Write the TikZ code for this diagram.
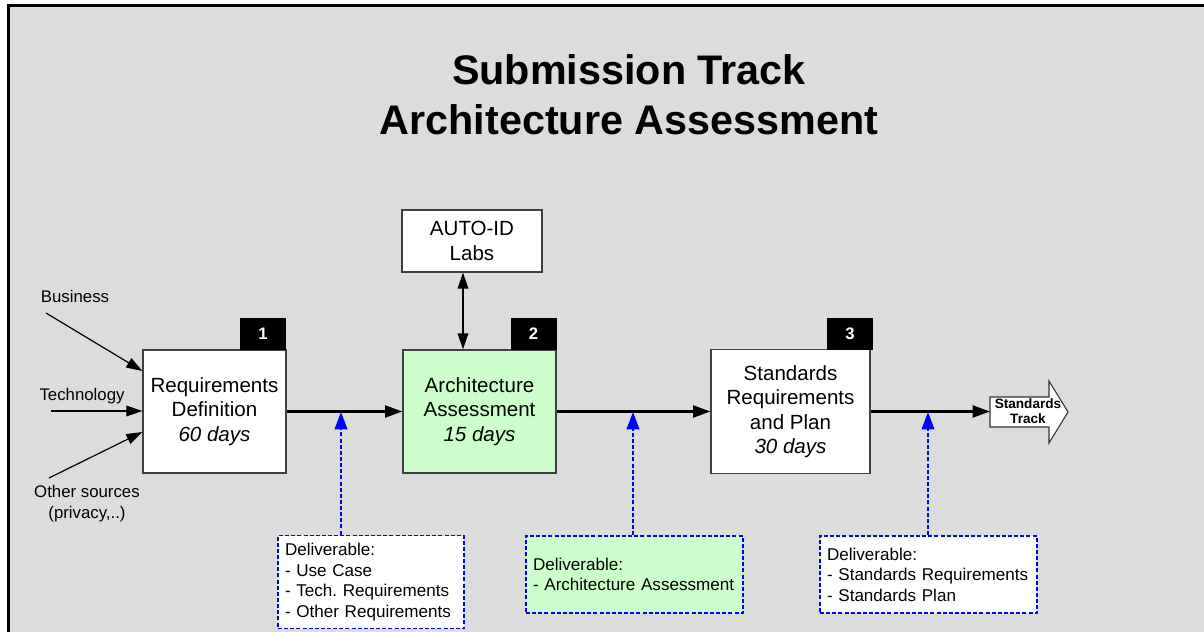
\documentclass[tikz,border=0pt]{standalone}
\usepackage{fontspec}
\setmainfont{Liberation Sans}
\usetikzlibrary{arrows.meta,calc}
\definecolor{bggray}{RGB}{220,220,220}
\definecolor{boxgreen}{RGB}{204,255,204}
\frenchspacing
\begin{document}
\begin{tikzpicture}[x=0.75pt,y=-0.75pt,
  stagebox/.style={draw=black!75,line width=1pt,fill=white,align=center,inner sep=0pt,
    font=\fontsize{15.4}{18.4}\selectfont},
  numbox/.style={fill=black,text=white,inner sep=0pt,minimum width=34.5pt,minimum height=24pt,
    font=\fontsize{12.5}{14}\selectfont\bfseries},
  delbox/.style={draw=blue,dash pattern=on 3pt off 1.6pt,line width=1.4pt,fill=white,align=left,
    inner xsep=5.25pt,inner ysep=0pt,font=\fontsize{12.8}{15.4}\selectfont},
  lbl/.style={align=center,font=\fontsize{12.6}{15.8}\selectfont,inner sep=0pt},
  mainarrow/.style={line width=1.6pt,-{Triangle[length=13pt,width=9pt]}},
  inarrow/.style={line width=0.9pt,-{Triangle[length=12pt,width=8pt]}},
  bluearrow/.style={blue,line width=1.4pt,dash pattern=on 3pt off 1.6pt,-{Triangle[length=13pt,width=9.5pt]}},
]
\useasboundingbox (0,0) rectangle (1204,632);
\clip (0,0) rectangle (1204,632);
\fill[white] (0,0) rectangle (1204,632);
\draw[line width=2.3pt,fill=bggray] (8.5,5.5) rectangle (1230,660);

% title
\node[font=\fontsize{31}{37.5}\selectfont\bfseries,align=center,inner sep=0pt] (title) at (629,95)
  {Submission Track\\Architecture Assessment};

% stage boxes
\node[stagebox,minimum width=107.25pt,minimum height=92.25pt] (b1) at (214.5,411.5)
  {Requirements\\Definition\\\textit{60 days}};
\node[stagebox,fill=boxgreen,minimum width=114.75pt,minimum height=92.25pt] (b2) at (479.5,411.5)
  {Architecture\\Assessment\\\textit{15 days}};
\node[stagebox,minimum width=119.25pt,minimum height=93pt] (b3) at (790.5,411.5)
  {Standards\\Requirements\\and Plan\\\textit{30 days}};
\node[stagebox,minimum width=105pt,minimum height=46.5pt] (auto) at (472,241)
  {AUTO-ID\\Labs};

% number tags
\node[numbox] (n1) at (263,334) {1};
\node[numbox] (n2) at (533.5,334) {2};
\node[numbox] (n3) at (850,334) {3};

% AUTO-ID link
\draw[line width=0.9pt,{Triangle[length=12pt,width=8pt]}-{Triangle[length=12pt,width=8pt]}]
  (auto.south -| 463,0) -- (b2.north -| 463,0);

% standards track arrow
\coordinate (st) at (990,411.5);
\draw[black!80,line width=0.8pt,fill=white] (990,397) -- (1049,397) -- (1049,381) -- (1068,412)
  -- (1049,443) -- (1049,427) -- (990,427) -- cycle;
\node[align=center,font=\fontsize{10.2}{11.5}\selectfont\bfseries,inner sep=0pt] (ST) at (1028,411)
  {Standards\\Track};

% main flow
\draw[mainarrow] (b1.east) -- (b2.west);
\draw[mainarrow] (b2.east) -- (b3.west);
\draw[mainarrow] (b3.east) -- (st);

% inputs
\node[lbl] (bus) at (75,296) {Business};
\node[lbl] (tech) at (82,396) {Technology};
\node[lbl] (oth) at (87,504) {Other sources\\(privacy,..)};
\coordinate (busS) at (46,313);
\coordinate (techS) at (51,411);
\coordinate (othS) at (49,478);
\draw[inarrow] (busS) -- (b1.west |- 0,371);
\draw[inarrow] (techS) -- (b1.west |- 0,411);
\draw[inarrow] (othS) -- (b1.west |- 0,432);

% deliverables
\node[delbox,text width=129pt,minimum height=69.75pt] (d1) at (371,582)
  {Deliverable:\\- Use Case\\- Tech. Requirements\\- Other Requirements};
\node[delbox,fill=boxgreen,text width=152.25pt,minimum height=57.75pt] (d2) at (634.5,574.5)
  {Deliverable:\\- Architecture Assessment};
\node[delbox,text width=152.25pt,minimum height=57.75pt] (d3) at (928.5,574.5)
  {Deliverable:\\- Standards Requirements\\- Standards Plan};

\coordinate (m1) at (341,412);
\coordinate (m2) at (633,412);
\coordinate (m3) at (928,412);
\draw[bluearrow] (d1.north -| m1) -- (m1);
\draw[bluearrow] (d2.north -| m2) -- (m2);
\draw[bluearrow] (d3.north -| m3) -- (m3);
\end{tikzpicture}
\end{document}
